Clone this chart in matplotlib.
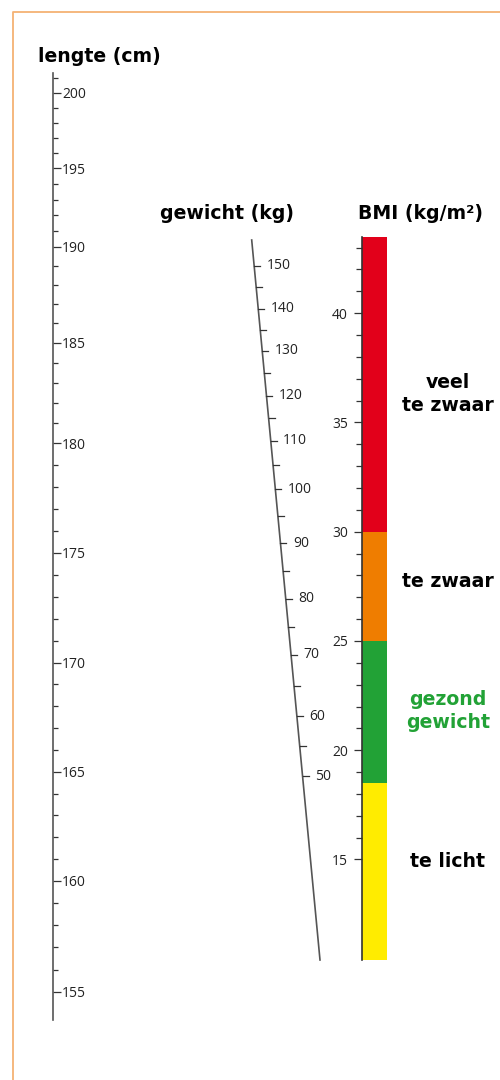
"""BMI nomogram: lengte, gewicht en BMI-schaal."""

import numpy as np
import matplotlib
matplotlib.use("Agg")
import matplotlib.pyplot as plt
import matplotlib.transforms as mtransforms
from matplotlib.ticker import FixedLocator, FixedFormatter, NullFormatter

plt.rcParams["font.family"] = ["Open Sans", "DejaVu Sans"]

# --- data -----------------------------------------------------------------
# height scale (cm); the nomogram scale is not linear, so the labelled values
# carry their place on the chart (px from the top) as scale anchors
HEIGHT_MAJOR = [155, 160, 165, 170, 175, 180, 185, 190, 195, 200]
HEIGHT_ANCHOR_PX = [991.7, 881.0, 771.7, 662.7, 552.7, 443.3, 342.7, 246.7, 168.3, 92.7]
HEIGHT_MINOR = list(range(156, 202))
HEIGHT_RANGE = (153.7, 201.3)

# weight scale (kg), slanted
WEIGHT_MAJOR = [50, 60, 70, 80, 90, 100, 110, 120, 130, 140, 150]
WEIGHT_ANCHOR_PX = [776.0, 716.0, 655.0, 599.0, 543.3, 489.3, 441.0, 395.7, 351.0, 309.0, 265.7]
WEIGHT_MINOR = [55, 65, 75, 85, 95, 105, 115, 125, 135, 145]

# BMI scale (kg/m2), linear
BMI_MAJOR = [15, 20, 25, 30, 35, 40]
BMI_MINOR = list(range(15, 44))
BMI_RANGE = (10.4, 43.5)
BMI_EDGES = [10.4, 18.5, 25, 30, 43.5]
BMI_CLASSES = ["te licht", "gezond\ngewicht", "te zwaar", "veel\nte zwaar"]
BMI_COLORS = ["#FFEC00", "#22A236", "#EF7D00", "#E2001A"]
BMI_LABEL_COLORS = ["black", "#22A236", "black", "black"]

# --- layout (pixels of a 500 x 1080 canvas) ----------------------------------
W, H = 500, 1080
TICK_GREY = "#333333"
LABEL_GREY = "#222222"
BOLD = dict(family=["DejaVu Sans"], fontweight="bold", fontsize=13.6)


def piecewise(x, xp, fp):
    """Linear interpolation with linear extrapolation at both ends."""
    x = np.asarray(x, dtype=float)
    xp = np.asarray(xp, dtype=float)
    fp = np.asarray(fp, dtype=float)
    y = np.interp(x, xp, fp)
    lo = x < xp[0]
    hi = x > xp[-1]
    y = np.where(lo, fp[0] + (x - xp[0]) * (fp[1] - fp[0]) / (xp[1] - xp[0]), y)
    y = np.where(hi, fp[-1] + (x - xp[-1]) * (fp[-1] - fp[-2]) / (xp[-1] - xp[-2]), y)
    return y


neg_h_px = [-p for p in HEIGHT_ANCHOR_PX]


def h_forward(h):
    return piecewise(h, HEIGHT_MAJOR, neg_h_px)


def h_inverse(v):
    return piecewise(v, neg_h_px, HEIGHT_MAJOR)


def fig_rect(x0, y0, x1, y1):
    """Pixel box (top-left origin) -> figure fraction rect."""
    return [x0 / W, 1 - y1 / H, (x1 - x0) / W, (y1 - y0) / H]


fig = plt.figure(figsize=(W / 100, H / 100), dpi=100)

# overlay in pixel coordinates for frame, titles and the slanted weight scale
ax = fig.add_axes([0, 0, 1, 1])
ax.set_xlim(0, W)
ax.set_ylim(H, 0)
ax.axis("off")

ax.plot([13.3, 13.3, W], [H, 11.7, 11.7], color="#F4B274", lw=1.3,
        solid_capstyle="butt", clip_on=False)

ax.text(38, 61.7, "lengte (cm)", va="baseline", **BOLD)
ax.text(160, 219, "gewicht (kg)", va="baseline", **BOLD)
ax.text(358, 219, "BMI (kg/m²)", va="baseline", **BOLD)

# ---- height scale --------------------------------------------------------
top_px = -float(h_forward(HEIGHT_RANGE[1]))
bot_px = -float(h_forward(HEIGHT_RANGE[0]))
ax_h = fig.add_axes(fig_rect(30, top_px, 52.5, bot_px))
ax_h.set_yscale("function", functions=(h_forward, h_inverse))
ax_h.set_ylim(*HEIGHT_RANGE)
ax_h.patch.set_visible(False)
for side in ["left", "top", "bottom"]:
    ax_h.spines[side].set_visible(False)
ax_h.spines["right"].set_color("#555555")
ax_h.spines["right"].set_linewidth(1.2)
ax_h.set_xticks([])
ax_h.yaxis.tick_right()
ax_h.yaxis.set_major_locator(FixedLocator(HEIGHT_MAJOR))
ax_h.yaxis.set_major_formatter(FixedFormatter([str(v) for v in HEIGHT_MAJOR]))
ax_h.yaxis.set_minor_locator(FixedLocator(HEIGHT_MINOR))
ax_h.yaxis.set_minor_formatter(NullFormatter())
ax_h.tick_params(axis="y", which="major", direction="out", length=5.5, width=0.9,
                 pad=1.5, labelsize=10, colors=TICK_GREY, labelcolor=LABEL_GREY)
ax_h.tick_params(axis="y", which="minor", direction="out", length=3.3, width=0.9,
                 colors=TICK_GREY)

# ---- weight scale (slanted line) -----------------------------------------
line_top = (251.7, 240.0)
line_bot = (320.0, 960.0)


def x_on_line(y):
    return line_top[0] + (y - line_top[1]) * (line_bot[0] - line_top[0]) / (line_bot[1] - line_top[1])


ax.plot([line_top[0], line_bot[0]], [line_top[1], line_bot[1]], color="#555555", lw=1.2)
w_major_y = np.interp(WEIGHT_MAJOR, WEIGHT_MAJOR, WEIGHT_ANCHOR_PX)
w_minor_y = np.interp(WEIGHT_MINOR, WEIGHT_MAJOR, WEIGHT_ANCHOR_PX)
for y in np.concatenate([w_major_y, w_minor_y]):
    x = x_on_line(y)
    ax.plot([x, x + 6], [y, y], color=TICK_GREY, lw=0.9)
for val, y in zip(WEIGHT_MAJOR, w_major_y):
    ax.text(x_on_line(y) + 12.5, y, str(val), fontsize=10, color=LABEL_GREY,
            ha="left", va="center")

# ---- BMI bar -------------------------------------------------------------
ax_b = fig.add_axes(fig_rect(361.7, 236.7, 387.3, 960.0))
ax_b.set_ylim(*BMI_RANGE)
ax_b.set_xlim(-0.5, 0.5)
lows = BMI_EDGES[:-1]
spans = np.diff(BMI_EDGES)
ax_b.bar([0] * len(spans), spans, bottom=lows, width=1.0, color=BMI_COLORS,
         edgecolor="none")
ax_b.patch.set_visible(False)
for side in ["right", "top", "bottom"]:
    ax_b.spines[side].set_visible(False)
ax_b.spines["left"].set_color("#333333")
ax_b.spines["left"].set_linewidth(1.2)
ax_b.spines["left"].set_zorder(5)
ax_b.set_xticks([])
ax_b.yaxis.set_major_locator(FixedLocator(BMI_MAJOR))
ax_b.yaxis.set_minor_locator(FixedLocator(BMI_MINOR))
ax_b.yaxis.set_minor_formatter(NullFormatter())
ax_b.tick_params(axis="y", which="major", direction="out", length=6, width=0.9,
                 pad=4, labelsize=10, colors=TICK_GREY, labelcolor=LABEL_GREY)
ax_b.tick_params(axis="y", which="minor", direction="out", length=4.3, width=0.9,
                 colors=TICK_GREY)

# class labels right of the bar
label_at = [14.9, 21.8, 27.7, 36.3]
trans = mtransforms.blended_transform_factory(ax_b.transAxes, ax_b.transData)
for text, yv, col in zip(BMI_CLASSES, label_at, BMI_LABEL_COLORS):
    ax_b.text(3.37, yv, text, transform=trans, ha="center", va="center",
              color=col, linespacing=1.3, clip_on=False, **BOLD)

fig.savefig("out.png", dpi=100)
